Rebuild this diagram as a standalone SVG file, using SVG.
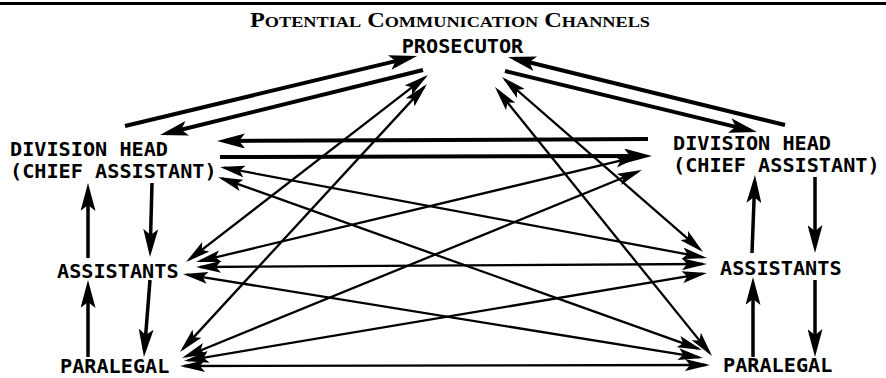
<svg xmlns="http://www.w3.org/2000/svg" width="886" height="378" viewBox="0 0 886 378">
<style>
.lbl{font-family:"DejaVu Sans Mono","Liberation Mono",monospace;font-size:20.2px;font-weight:bold;fill:#000}
.ttl{font-family:"Liberation Serif","Times New Roman",serif;font-size:20px;font-weight:bold;fill:#000}
.thin{stroke:#000;stroke-width:2.3;fill:none;marker-start:url(#ah);marker-end:url(#ah)}
.thick{stroke:#000;stroke-width:4;fill:none;marker-end:url(#ahk)}
.vert{stroke:#000;stroke-width:3.5;fill:none;marker-end:url(#ahk)}
</style>
<defs>
<marker id="ah" markerUnits="userSpaceOnUse" markerWidth="25" markerHeight="12" refX="21" refY="6" orient="auto-start-reverse">
<path d="M0,0 L25,6 L0,12 L5,6 Z" fill="#000"/>
</marker>
<marker id="ahk" markerUnits="userSpaceOnUse" markerWidth="28" markerHeight="15" refX="21" refY="7.5" orient="auto">
<path d="M0,0 L28,7.5 L0,15 L6,7.5 Z" fill="#000"/>
</marker>
</defs>
<rect width="886" height="378" fill="#fff"/>
<rect x="0" y="2" width="886" height="3" fill="#000"/>
<text class="ttl" x="450" y="27" text-anchor="middle" textLength="400" lengthAdjust="spacingAndGlyphs">P<tspan font-size="15">OTENTIAL</tspan> C<tspan font-size="15">OMMUNICATION</tspan> C<tspan font-size="15">HANNELS</tspan></text>

<g id="connectors">
<!-- thick links -->
<line class="thick" x1="125" y1="126" x2="410.2" y2="57.6"/>
<line class="thick" x1="423" y1="70" x2="166.8" y2="133.3"/>
<line class="thick" x1="785" y1="125" x2="514.8" y2="58.7"/>
<line class="thick" x1="505" y1="71" x2="750.2" y2="130.4"/>
<line class="thick" x1="648" y1="139" x2="224" y2="141"/>
<line class="thick" x1="220" y1="157" x2="645" y2="156"/>
<!-- vertical -->
<line class="vert" x1="88" y1="258" x2="88" y2="190"/>
<line class="vert" x1="152" y1="183" x2="150.2" y2="250"/>
<line class="vert" x1="88" y1="357" x2="88" y2="287"/>
<line class="vert" x1="150" y1="280" x2="144.5" y2="350"/>
<line class="vert" x1="752" y1="253" x2="754.7" y2="182"/>
<line class="vert" x1="815" y1="177" x2="815" y2="246"/>
<line class="vert" x1="753" y1="357" x2="753" y2="284"/>
<line class="vert" x1="815" y1="280" x2="815" y2="350"/>
<!-- thin double-headed -->
<line class="thin" x1="424.8" y1="77.4" x2="189.2" y2="259.6"/>
<line class="thin" x1="424.3" y1="86.9" x2="182.7" y2="349.1"/>
<line class="thin" x1="505" y1="79.6" x2="700" y2="249.4"/>
<line class="thin" x1="497.5" y1="90.1" x2="709.5" y2="352.9"/>
<line class="thin" x1="223.9" y1="167.7" x2="703.1" y2="257.3"/>
<line class="thin" x1="221.8" y1="178.3" x2="698.2" y2="348.7"/>
<line class="thin" x1="199.9" y1="261.1" x2="636.1" y2="156.9"/>
<line class="thin" x1="185.7" y1="356.5" x2="638.3" y2="171.5"/>
<line class="thin" x1="200" y1="267" x2="703" y2="264"/>
<line class="thin" x1="186.9" y1="274.6" x2="699.1" y2="357.4"/>
<line class="thin" x1="187.9" y1="360.3" x2="703.1" y2="273.7"/>
<line class="thin" x1="184" y1="366" x2="706" y2="365"/>
</g>

<g id="prosecutor"><text class="lbl" x="462.5" y="53" text-anchor="middle">PROSECUTOR</text></g>
<g id="left-division-head"><text class="lbl" x="10" y="156">DIVISION HEAD</text><text class="lbl" x="10" y="178">(CHIEF ASSISTANT)</text></g>
<g id="left-assistants"><text class="lbl" x="57" y="278">ASSISTANTS</text></g>
<g id="left-paralegal"><text class="lbl" x="60" y="373">PARALEGAL</text></g>
<g id="right-division-head"><text class="lbl" x="673" y="150">DIVISION HEAD</text><text class="lbl" x="673" y="172">(CHIEF ASSISTANT)</text></g>
<g id="right-assistants"><text class="lbl" x="720" y="275">ASSISTANTS</text></g>
<g id="right-paralegal"><text class="lbl" x="723" y="372">PARALEGAL</text></g>
</svg>
